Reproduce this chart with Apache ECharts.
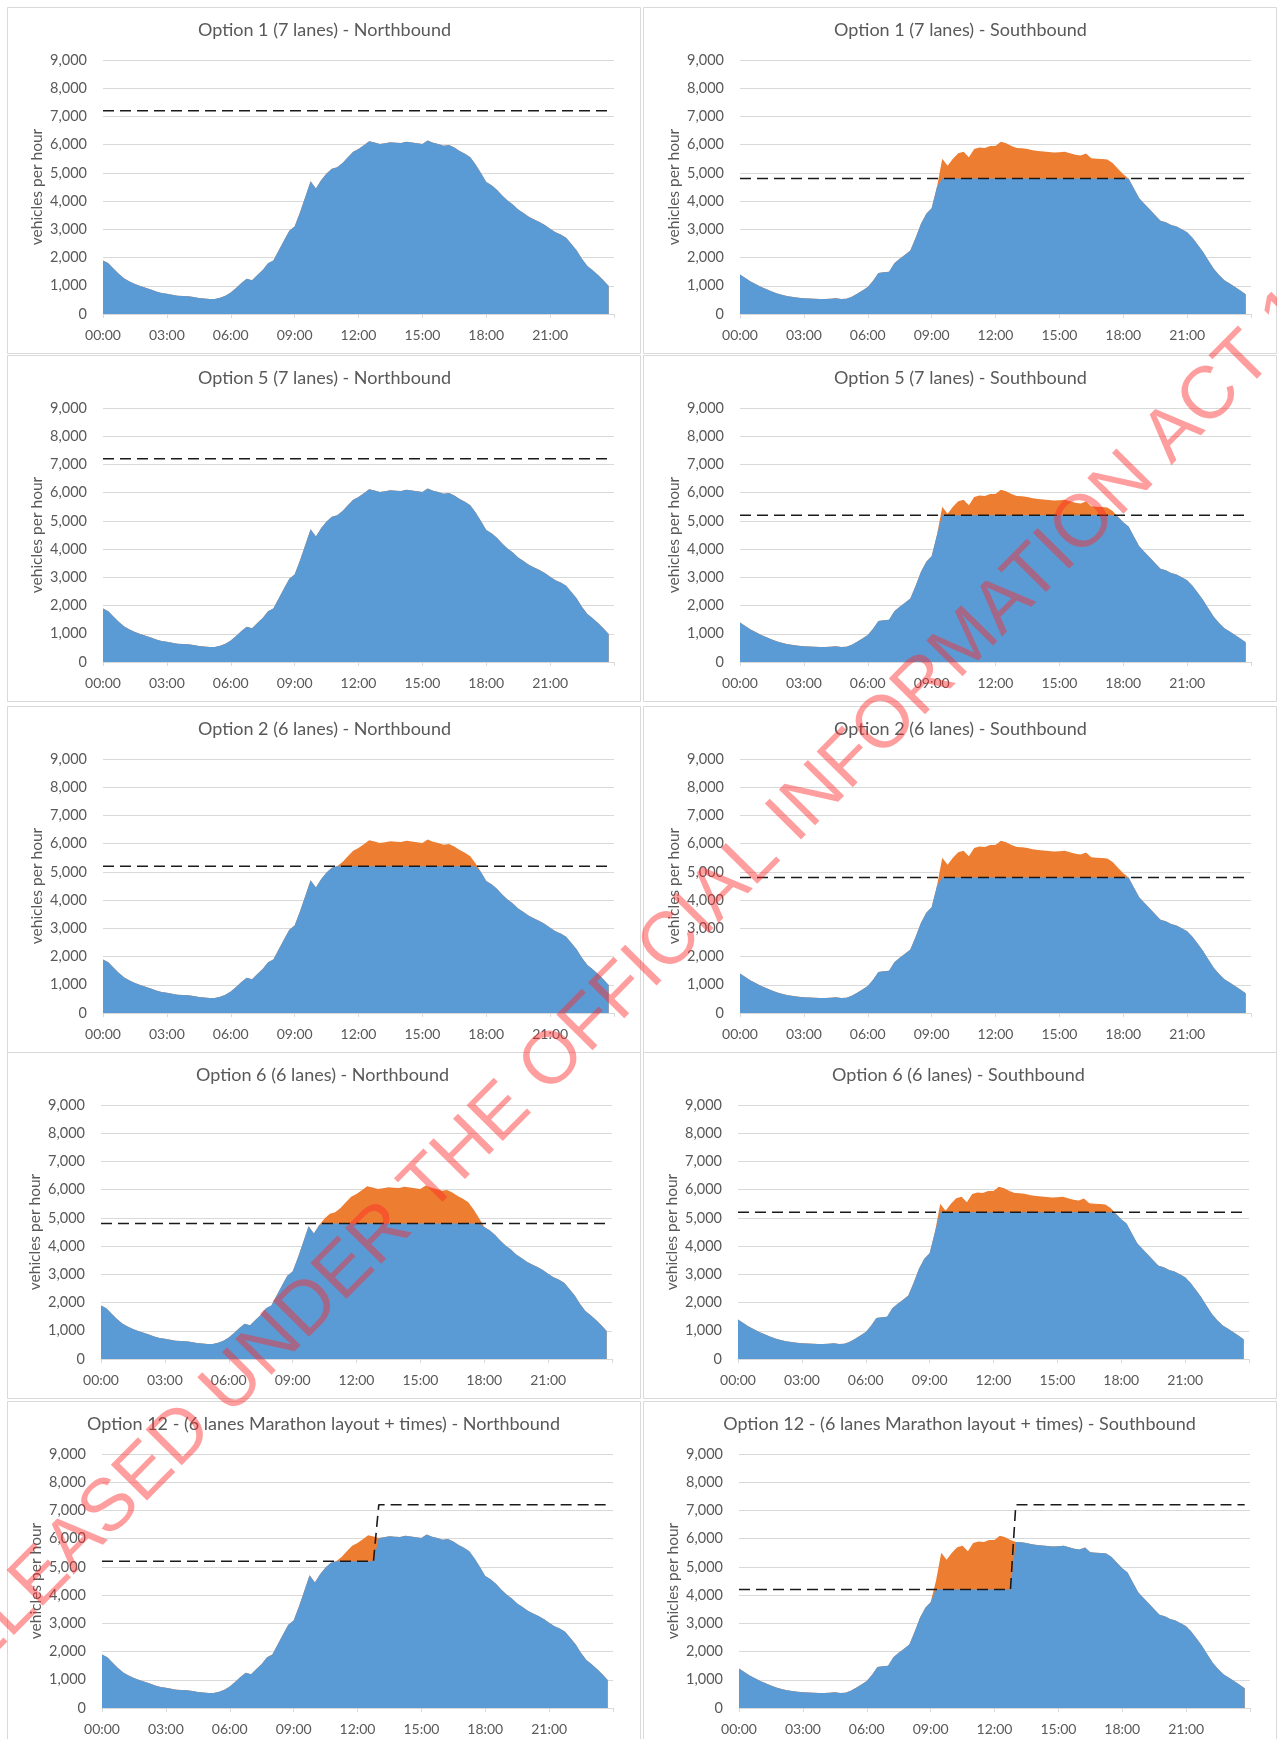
<!DOCTYPE html>
<html>
<head>
<meta charset="utf-8">
<script src="https://cdn.jsdelivr.net/npm/echarts@6/dist/echarts.min.js"></script>
<style>
html, body { margin: 0; padding: 0; background: #fff; }
#main { width: 1277px; height: 1739px; }
</style>
</head>
<body>
<div id="main"></div>
<script type="text/javascript">
// 15 minute intervals over the day
var times = ['00:00','00:15','00:30','00:45','01:00','01:15','01:30','01:45','02:00','02:15','02:30','02:45',
    '03:00','03:15','03:30','03:45','04:00','04:15','04:30','04:45','05:00','05:15','05:30','05:45',
    '06:00','06:15','06:30','06:45','07:00','07:15','07:30','07:45','08:00','08:15','08:30','08:45',
    '09:00','09:15','09:30','09:45','10:00','10:15','10:30','10:45','11:00','11:15','11:30','11:45',
    '12:00','12:15','12:30','12:45','13:00','13:15','13:30','13:45','14:00','14:15','14:30','14:45',
    '15:00','15:15','15:30','15:45','16:00','16:15','16:30','16:45','17:00','17:15','17:30','17:45',
    '18:00','18:15','18:30','18:45','19:00','19:15','19:30','19:45','20:00','20:15','20:30','20:45',
    '21:00','21:15','21:30','21:45','22:00','22:15','22:30','22:45','23:00','23:15','23:30','23:45'];

// demand, vehicles per hour
var northbound = [1900,1800,1600,1420,1260,1150,1060,990,930,870,800,740,
    720,680,650,640,630,600,570,550,530,530,580,650,
    760,920,1100,1250,1200,1380,1560,1800,1900,2250,2600,2950,
    3100,3600,4150,4700,4450,4750,4980,5150,5200,5350,5550,5750,
    5850,5980,6120,6080,6020,6050,6090,6070,6060,6100,6080,6050,
    6020,6150,6070,6020,5960,5990,5900,5780,5680,5550,5300,5000,
    4680,4560,4400,4200,4020,3880,3700,3580,3450,3350,3260,3150,
    3020,2900,2820,2700,2480,2250,1950,1700,1550,1380,1200,990];

var southbound = [1400,1280,1150,1050,960,880,800,730,670,630,600,580,
    560,550,540,530,530,540,560,530,540,610,720,830,
    960,1180,1450,1480,1500,1800,1960,2100,2250,2700,3200,3550,
    3750,4500,5500,5250,5500,5700,5750,5550,5850,5900,5880,5950,
    5950,6100,6050,5950,5880,5870,5850,5800,5780,5760,5740,5720,
    5730,5750,5700,5640,5620,5690,5520,5500,5490,5470,5350,5150,
    4950,4800,4450,4100,3900,3700,3500,3300,3250,3150,3100,3000,
    2900,2700,2450,2200,1900,1600,1380,1200,1080,960,830,700];

var yTicks = [0,1000,2000,3000,4000,5000,6000,7000,8000,9000];
var xTickLabels = ['00:00','03:00','06:00','09:00','12:00','15:00','18:00','21:00'];

var panelTitles = [
    'Option 1 (7 lanes) - Northbound', 'Option 1 (7 lanes) - Southbound',
    'Option 5 (7 lanes) - Northbound', 'Option 5 (7 lanes) - Southbound',
    'Option 2 (6 lanes) - Northbound', 'Option 2 (6 lanes) - Southbound',
    'Option 6 (6 lanes) - Northbound', 'Option 6 (6 lanes) - Southbound',
    'Option 12 - (6 lanes Marathon layout + times) - Northbound',
    'Option 12 - (6 lanes Marathon layout + times) - Southbound'
];
var panelDirection = ['N','S','N','S','N','S','N','S','N','S'];
// capacity (dashed line) before and from the switch time
var capacityBefore = [7200,4800,7200,5200,5200,4800,4800,5200,5200,4200];
var capacityAfter  = [7200,4800,7200,5200,5200,4800,4800,5200,7200,7200];
var capacitySwitch = '13:00';

var BLUE = '#5B9BD5', ORANGE = '#ED7D31', GRID = '#d9d9d9', TXT = '#595959';
var FONT = 'Lato';

function toMin(t) { var p = t.split(':'); return (+p[0]) * 60 + (+p[1]); }
function fmtTime(v) {
    if (v >= 1440) return '';
    var h = Math.floor(v / 60), m = v % 60;
    return (h < 10 ? '0' : '') + h + ':' + (m < 10 ? '0' : '') + m;
}

var myChart = echarts.init(document.getElementById('main'));

var gridTops = [60, 408, 759, 1105, 1454];
var rowShift = [0, 0, 0, -2, -1];
var colLeft = [103, 740];
var panelLeft = [8, 644];
var panelW = [633, 633];
var plotW = 511, plotH = 254;

var grids = [], xAxes = [], yAxes = [], series = [], titles = [], graphics = [];
var switchMin = toMin(capacitySwitch);

for (var i = 0; i < 10; i++) {
    var col = i % 2, row = Math.floor(i / 2);
    var gl = colLeft[col] + rowShift[row], gt = gridTops[row];
    grids.push({ left: gl, top: gt, width: plotW, height: plotH });

    // panel frame
    graphics.push({
        type: 'rect', silent: true, z: 0,
        shape: { x: panelLeft[col] - 0.5, y: gt - 53 + 0.5, width: panelW[col], height: 346 },
        style: { fill: null, stroke: GRID, lineWidth: 1 }
    });

    titles.push({
        text: panelTitles[i],
        left: panelLeft[col] + panelW[col] / 2 + rowShift[row], top: gt - 39,
        textAlign: 'center', padding: 0,
        textStyle: { fontFamily: FONT, fontSize: 18, fontWeight: 'normal', color: TXT }
    });

    xAxes.push({
        gridIndex: i, type: 'value', min: 0, max: 1440, interval: 180,
        axisLine: { show: true, lineStyle: { color: GRID } },
        axisTick: { show: true, length: 4, lineStyle: { color: GRID } },
        splitLine: { show: false },
        axisLabel: { margin: 14, color: TXT, fontFamily: FONT, fontSize: 14, formatter: fmtTime }
    });
    yAxes.push({
        gridIndex: i, type: 'value', min: yTicks[0], max: yTicks[yTicks.length - 1], interval: 1000,
        name: 'vehicles per hour', nameLocation: 'middle', nameGap: 58,
        nameTextStyle: { color: TXT, fontFamily: FONT, fontSize: 15.5 },
        axisLine: { show: false }, axisTick: { show: false },
        splitLine: { lineStyle: { color: GRID } },
        axisLabel: { margin: 16, color: TXT, fontFamily: FONT, fontSize: 14.5,
            formatter: function (v) { return v.toLocaleString('en-US'); } }
    });

    var demand = panelDirection[i] === 'N' ? northbound : southbound;
    var dAll = [], dCap = [], cap = [];
    for (var k = 0; k < times.length; k++) {
        var m = toMin(times[k]);
        var c = m >= switchMin ? capacityAfter[i] : capacityBefore[i];
        dAll.push([m, demand[k]]);
        dCap.push([m, Math.min(demand[k], c)]);
        cap.push([m, c]);
    }
    series.push({
        type: 'line', xAxisIndex: i, yAxisIndex: i, data: dAll, symbol: 'none', silent: true,
        lineStyle: { width: 0 }, areaStyle: { color: ORANGE, opacity: 1 }, z: 2
    });
    series.push({
        type: 'line', xAxisIndex: i, yAxisIndex: i, data: dCap, symbol: 'none', silent: true,
        lineStyle: { width: 0 }, areaStyle: { color: BLUE, opacity: 1 }, z: 3
    });
    series.push({
        type: 'line', xAxisIndex: i, yAxisIndex: i, data: cap, symbol: 'none', silent: true,
        lineStyle: { color: '#1a1a1a', width: 1.6, type: [11, 6] }, z: 4
    });
}

// watermark
graphics.push({
    type: 'text', silent: true, z: 100,
    x: 657, y: 956, rotation: 45.3 * Math.PI / 180,
    style: {
        text: 'RELEASED UNDER THE OFFICIAL INFORMATION ACT 1982',
        fontFamily: 'Liberation Sans', fontSize: 74,
        fill: 'rgba(255, 40, 40, 0.45)',
        align: 'center', verticalAlign: 'middle'
    }
});

var option = {
    backgroundColor: '#fff',
    animation: false,
    title: titles,
    grid: grids,
    xAxis: xAxes,
    yAxis: yAxes,
    series: series,
    graphic: graphics
};
myChart.setOption(option);
</script>
</body>
</html>
